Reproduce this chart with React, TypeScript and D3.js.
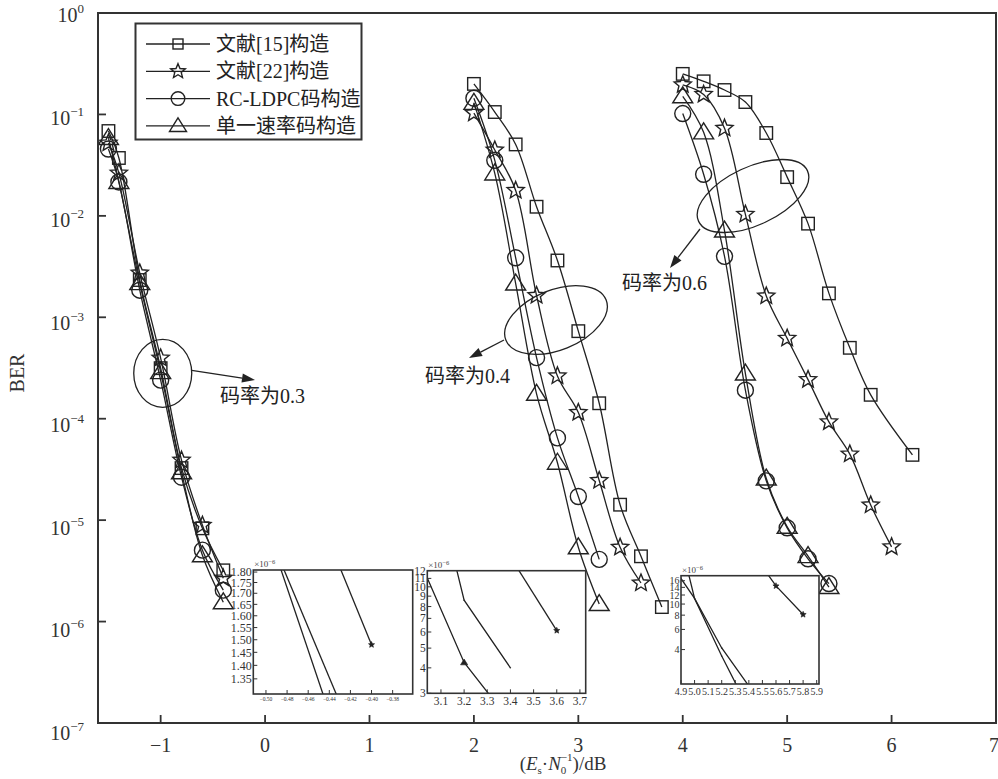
import React from 'react';
import * as d3 from 'd3';

// ---------- axis ticks ----------
const xTickValues = [-1, 0, 1, 2, 3, 4, 5, 6, 7];
const yTickExponents = [0, -1, -2, -3, -4, -5, -6, -7];

// ---------- legend ----------
const legendLabels = ['文献[15]构造', '文献[22]构造', 'RC-LDPC码构造', '单一速率码构造'];
const legendMarkers = ['square', 'star', 'circle', 'triangle'];

// ---------- rate 0.3 ----------
const snrR03 = [-1.5, -1.4, -1.2, -1.0, -0.8, -0.6, -0.4];
const r03Ref15 = [0.0686, 0.0372, 0.00233, 3.15e-4, 3.26e-5, 8.3e-6, 3.2e-6];
const r03Ref22 = [0.0522, 0.0264, 0.00273, 3.96e-4, 3.9e-5, 8.9e-6, 2.68e-6];
const r03Rc = [0.0456, 0.0216, 0.00185, 2.4e-4, 2.65e-5, 5.06e-6, 2.04e-6];
const r03Single = [0.0585, 0.0216, 0.00217, 2.88e-4, 2.97e-5, 4.5e-6, 1.55e-6];

// ---------- rate 0.4 ----------
const snrR04Ref15 = [2.0, 2.2, 2.4, 2.6, 2.8, 3.0, 3.2, 3.4, 3.6, 3.8];
const r04Ref15 = [0.2, 0.1056, 0.0506, 0.0123, 0.00363, 7.3e-4, 1.42e-4, 1.42e-5, 4.4e-6, 1.39e-6];
const snrR04Ref22 = [2.0, 2.2, 2.4, 2.6, 2.8, 3.0, 3.2, 3.4, 3.6];
const r04Ref22 = [0.103, 0.0446, 0.0178, 0.00164, 2.64e-4, 1.15e-4, 2.46e-5, 5.4e-6, 2.4e-6];
const snrR04Short = [2.0, 2.2, 2.4, 2.6, 2.8, 3.0, 3.2];
const r04Rc = [0.1445, 0.0353, 0.00386, 4.0e-4, 6.47e-5, 1.71e-5, 4.1e-6];
const r04Single = [0.13, 0.0262, 0.00215, 1.76e-4, 3.68e-5, 5.4e-6, 1.49e-6];

// ---------- rate 0.6 ----------
const snrR06Ref15 = [4.0, 4.2, 4.4, 4.6, 4.8, 5.0, 5.2, 5.4, 5.6, 5.8, 6.2];
const r06Ref15 = [0.251, 0.212, 0.174, 0.1325, 0.0656, 0.0241, 0.00838, 0.00172, 5.0e-4, 1.72e-4, 4.4e-5];
const snrR06Ref22 = [4.0, 4.2, 4.4, 4.6, 4.8, 5.0, 5.2, 5.4, 5.6, 5.8, 6.0];
const r06Ref22 = [0.196, 0.1575, 0.0731, 0.01035, 0.00162, 6.2e-4, 2.43e-4, 9.3e-5, 4.48e-5, 1.41e-5, 5.45e-6];
const snrR06Short = [4.0, 4.2, 4.4, 4.6, 4.8, 5.0, 5.2, 5.4];
const r06Rc = [0.102, 0.0257, 0.00399, 1.91e-4, 2.44e-5, 8.4e-6, 4.16e-6, 2.37e-6];
const r06Single = [0.151, 0.0666, 0.00716, 2.79e-4, 2.57e-5, 8.6e-6, 4.42e-6, 2.19e-6];

// ---------- insets (values in units of 1e-6) ----------
const in1XTicks = [-0.5, -0.48, -0.46, -0.44, -0.42, -0.4, -0.38];
const in1YTicks = [1.8, 1.75, 1.7, 1.65, 1.6, 1.55, 1.5, 1.45, 1.4, 1.35];
const in1LineAX = [-0.49, -0.44];
const in1LineAY = [1.877, 1.232];
const in1LineBX = [-0.49, -0.43];
const in1LineBY = [1.9, 1.266];
const in1StarX = [-0.44, -0.4];
const in1StarY = [1.954, 1.48];

const in2XTicks = [3.1, 3.2, 3.3, 3.4, 3.5, 3.6, 3.7];
const in2YTicks = [3, 4, 5, 6, 7, 8, 9, 10, 11, 12];
const in2TriX = [3.0, 3.2, 3.4];
const in2TriY = [14.1, 4.25, 2.18];
const in2CircX = [3.1, 3.2, 3.4];
const in2CircY = [25, 8.6, 4.0];
const in2StarX = [3.4, 3.6];
const in2StarY = [14, 6.1];

const in3XTicks = [4.9, 5.0, 5.1, 5.2, 5.3, 5.4, 5.5, 5.6, 5.7, 5.8, 5.9];
const in3YTicks = [4, 6, 8, 10, 12, 14, 16];
const in3TriX = [4.8, 5.0, 5.2, 5.4];
const in3TriY = [25, 11.2, 4.13, 1.92];
const in3CircX = [4.8, 5.0, 5.2, 5.4];
const in3CircY = [104, 11.2, 3.52, 1.2];
const in3StarX = [5.4, 5.6, 5.8];
const in3StarY = [31, 14.4, 8.1];

const INK = '#222';
const FRAME = '#333';
const SERIF = "'Liberation Serif', 'Times New Roman', 'Noto Sans CJK SC', serif";

const zip = (xs: number[], ys: number[]) => xs.map((v, i) => [v, ys[i]] as [number, number]);

function starPath(cx: number, cy: number, R: number, r: number) {
  const pts: string[] = [];
  for (let i = 0; i < 10; i++) {
    const ang = -Math.PI / 2 + (i * Math.PI) / 5;
    const rad = i % 2 === 0 ? R : r;
    pts.push(`${(cx + rad * Math.cos(ang)).toFixed(2)},${(cy + rad * Math.sin(ang)).toFixed(2)}`);
  }
  return 'M' + pts.join('L') + 'Z';
}

function Marker({ type, cx, cy, s = 1, filled = false }: { type: string; cx: number; cy: number; s?: number; filled?: boolean }) {
  const common = { fill: filled ? INK : 'none', stroke: INK, strokeWidth: filled ? 0.6 : 1.4 };
  if (type === 'square') {
    const a = 12.5 * s;
    return <rect x={cx - a / 2} y={cy - a / 2} width={a} height={a} {...common} />;
  }
  if (type === 'circle') return <circle cx={cx} cy={cy} r={8 * s} {...common} />;
  if (type === 'triangle') {
    const hw = 10 * s, up = 9.5 * s, dn = 6.5 * s;
    return <path d={`M${cx},${cy - up}L${cx + hw},${cy + dn}L${cx - hw},${cy + dn}Z`} {...common} />;
  }
  if (type === 'dot') return <circle cx={cx} cy={cy} r={2 * s} fill={INK} />;
  return <path d={starPath(cx, cy, 9 * s, 4 * s)} {...common} />;
}

const W = 998;
const H = 779;
const x = d3.scaleLinear().domain([-1.6, 7]).range([98, 996]);
const y = d3.scaleLog().domain([1e-7, 1]).range([723, 13]);

const mainSeries = [
  { xs: snrR03, ys: r03Ref15, m: 'square' },
  { xs: snrR03, ys: r03Ref22, m: 'star' },
  { xs: snrR03, ys: r03Rc, m: 'circle' },
  { xs: snrR03, ys: r03Single, m: 'triangle' },
  { xs: snrR04Ref15, ys: r04Ref15, m: 'square' },
  { xs: snrR04Ref22, ys: r04Ref22, m: 'star' },
  { xs: snrR04Short, ys: r04Rc, m: 'circle' },
  { xs: snrR04Short, ys: r04Single, m: 'triangle' },
  { xs: snrR06Ref15, ys: r06Ref15, m: 'square' },
  { xs: snrR06Ref22, ys: r06Ref22, m: 'star' },
  { xs: snrR06Short, ys: r06Rc, m: 'circle' },
  { xs: snrR06Short, ys: r06Single, m: 'triangle' },
];

const curve = d3
  .line<[number, number]>()
  .x((d) => x(d[0]))
  .y((d) => y(d[1]))
  .curve(d3.curveCatmullRom.alpha(0.5));

type InsetSeries = { xs: number[]; ys: number[]; marks: { i: number; type: string }[] };

function Inset(props: {
  id: string;
  box: [number, number, number, number];
  xDom: [number, number];
  yDom: [number, number];
  xTicks: number[];
  yTicks: number[];
  xFmt: (v: number) => string;
  yFmt: (v: number) => string;
  xFont: number;
  yFont: number;
  xLabelDy: number;
  series: InsetSeries[];
}) {
  const [x0, y0, x1, y1] = props.box;
  const sx = d3.scaleLinear().domain(props.xDom).range([x0, x1]);
  const sy = d3.scaleLog().domain(props.yDom).range([y1, y0]);
  const ln = d3
    .line<[number, number]>()
    .x((d) => sx(d[0]))
    .y((d) => sy(d[1]));
  return (
    <g>
      <defs>
        <clipPath id={props.id}>
          <rect x={x0} y={y0} width={x1 - x0} height={y1 - y0} />
        </clipPath>
      </defs>
      <rect x={x0} y={y0} width={x1 - x0} height={y1 - y0} fill="#fff" />
      <g clipPath={`url(#${props.id})`}>
        {props.series.map((s, k) => (
          <path key={k} d={ln(zip(s.xs, s.ys)) || ''} fill="none" stroke={INK} strokeWidth={1.3} />
        ))}
        {props.series.map((s, k) =>
          s.marks.map((mk, j) => (
            <Marker key={`${k}-${j}`} type={mk.type} cx={sx(s.xs[mk.i])} cy={sy(s.ys[mk.i])} s={0.36} filled />
          ))
        )}
      </g>
      {props.xTicks.map((t) => (
        <g key={`x${t}`}>
          <line x1={sx(t)} x2={sx(t)} y1={y1} y2={y1 - 4} stroke={FRAME} strokeWidth={1} />
          <text x={sx(t)} y={y1 + props.xLabelDy} fontSize={props.xFont} textAnchor="middle" fill="#333" fontFamily={SERIF}>
            {props.xFmt(t)}
          </text>
        </g>
      ))}
      {props.yTicks.map((t) => (
        <g key={`y${t}`}>
          <line x1={x0} x2={x0 + 4} y1={sy(t)} y2={sy(t)} stroke={FRAME} strokeWidth={1} />
          <text x={x0 - 1.5} y={sy(t) + props.yFont * 0.35} fontSize={props.yFont} textAnchor="end" fill="#333" fontFamily={SERIF}>
            {props.yFmt(t)}
          </text>
        </g>
      ))}
      <rect x={x0} y={y0} width={x1 - x0} height={y1 - y0} fill="none" stroke={FRAME} strokeWidth={1.6} />
      <text x={x0 + 1} y={y0 - 3} fontSize={9} fill="#444" fontFamily={SERIF}>
        ×10<tspan dy={-3} fontSize={6.5}>−6</tspan>
      </text>
    </g>
  );
}

function Arrow({ x1, y1, x2, y2 }: { x1: number; y1: number; x2: number; y2: number }) {
  const ang = Math.atan2(y2 - y1, x2 - x1);
  const L = 13, Wd = 4.5;
  const bx = x2 - L * Math.cos(ang), by = y2 - L * Math.sin(ang);
  const px = -Math.sin(ang) * Wd, py = Math.cos(ang) * Wd;
  return (
    <g>
      <line x1={x1} y1={y1} x2={bx} y2={by} stroke={INK} strokeWidth={1.3} />
      <path d={`M${x2},${y2}L${bx + px},${by + py}L${bx - px},${by - py}Z`} fill={INK} />
    </g>
  );
}

export default function App() {
  const fmt2 = (v: number) => (v < 0 ? '−' : '') + Math.abs(v).toFixed(2);
  const fmt1 = (v: number) => v.toFixed(1);
  const fmt0 = (v: number) => String(v);

  return (
    <svg width={W} height={H} style={{ position: 'absolute', left: 0, top: 0, background: '#fff' }} fontFamily={SERIF}>
      <rect x={0} y={0} width={W} height={H} fill="#fff" />

      {/* y ticks */}
      {yTickExponents.map((e, i) => (
        <g key={e}>
          <line x1={x.range()[0]} x2={x.range()[0] + 8} y1={y(Math.pow(10, e))} y2={y(Math.pow(10, e))} stroke={FRAME} strokeWidth={1.8} />
          <text x={84} y={y(Math.pow(10, e)) + 9 + i * 1.1} fontSize={20} textAnchor="end" fill="#333">
            10<tspan dy={-9} fontSize={13}>{e === 0 ? '0' : '−' + Math.abs(e)}</tspan>
          </text>
        </g>
      ))}
      {/* x ticks */}
      {xTickValues.map((t) => (
        <g key={t}>
          <line x1={x(t)} x2={x(t)} y1={y.range()[0]} y2={y.range()[0] - 8} stroke={FRAME} strokeWidth={1.8} />
          <text x={x(t) - (t === 7 ? 2 : 0)} y={y.range()[0] + 29} fontSize={20} textAnchor="middle" fill="#333">
            {t < 0 ? '−' + Math.abs(t) : t}
          </text>
        </g>
      ))}

      {/* curves */}
      {mainSeries.map((s, k) => (
        <path key={k} d={curve(zip(s.xs, s.ys)) || ''} fill="none" stroke={INK} strokeWidth={1.3} />
      ))}
      {mainSeries.map((s, k) =>
        s.xs.map((v, i) => <Marker key={`${k}-${i}`} type={s.m} cx={x(v)} cy={y(s.ys[i])} />)
      )}

      {/* annotations */}
      <ellipse cx={x(-0.98)} cy={y(2.8e-4)} rx={29} ry={34} fill="none" stroke={INK} strokeWidth={1.3} />
      <Arrow x1={x(-0.98) + 29} y1={y(2.8e-4) - 3} x2={255} y2={380} />
      <text x={220} y={403} fontSize={20} fill="#222">码率为0.3</text>

      <ellipse cx={556} cy={320} rx={54} ry={30} transform="rotate(-22 556 320)" fill="none" stroke={INK} strokeWidth={1.3} />
      <Arrow x1={504} y1={340} x2={469} y2={358} />
      <text x={510} y={383} fontSize={20} fill="#222" textAnchor="end">码率为0.4</text>

      <ellipse cx={753} cy={196} rx={60} ry={29} transform="rotate(-25 753 196)" fill="none" stroke={INK} strokeWidth={1.3} />
      <Arrow x1={700} y1={229} x2={670} y2={268} />
      <text x={707} y={290} fontSize={20} fill="#222" textAnchor="end">码率为0.6</text>

      {/* insets */}
      <Inset
        id="in1"
        box={[253.3, 570, 412.7, 694]}
        xDom={[-0.512, -0.361]}
        yDom={[1.296, 1.81]}
        xTicks={in1XTicks}
        yTicks={in1YTicks}
        xFmt={fmt2}
        yFmt={fmt2}
        xFont={5.5}
        yFont={12}
        xLabelDy={7}
        series={[
          { xs: in1LineAX, ys: in1LineAY, marks: [] },
          { xs: in1LineBX, ys: in1LineBY, marks: [] },
          { xs: in1StarX, ys: in1StarY, marks: [{ i: 1, type: 'star' }] },
        ]}
      />
      <Inset
        id="in2"
        box={[427.3, 570.7, 585.7, 693.3]}
        xDom={[3.041, 3.725]}
        yDom={[3, 12]}
        xTicks={in2XTicks}
        yTicks={in2YTicks}
        xFmt={fmt1}
        yFmt={fmt0}
        xFont={11.5}
        yFont={11.5}
        xLabelDy={12}
        series={[
          { xs: in2TriX, ys: in2TriY, marks: [{ i: 1, type: 'triangle' }] },
          { xs: in2CircX, ys: in2CircY, marks: [{ i: 1, type: 'dot' }, { i: 2, type: 'dot' }] },
          { xs: in2StarX, ys: in2StarY, marks: [{ i: 1, type: 'star' }] },
        ]}
      />
      <Inset
        id="in3"
        box={[681, 575.7, 819, 684]}
        xDom={[4.9, 5.917]}
        yDom={[2, 17.7]}
        xTicks={in3XTicks}
        yTicks={in3YTicks}
        xFmt={fmt1}
        yFmt={fmt0}
        xFont={10}
        yFont={10}
        xLabelDy={11}
        series={[
          { xs: in3TriX, ys: in3TriY, marks: [{ i: 1, type: 'dot' }, { i: 2, type: 'dot' }] },
          { xs: in3CircX, ys: in3CircY, marks: [{ i: 2, type: 'dot' }] },
          { xs: in3StarX, ys: in3StarY, marks: [{ i: 1, type: 'star' }, { i: 2, type: 'star' }] },
        ]}
      />

      {/* legend */}
      <rect x={135.5} y={23.5} width={226} height={116} fill="#fff" stroke={FRAME} strokeWidth={2} />
      {legendLabels.map((lab, i) => {
        const ly = 44 + i * 27.3;
        return (
          <g key={lab}>
            <line x1={146} x2={210} y1={ly} y2={ly} stroke={INK} strokeWidth={1.3} />
            <Marker type={legendMarkers[i]} cx={178} cy={ly} s={legendMarkers[i] === 'square' ? 0.8 : 0.85} />
            <text x={216} y={ly + 7} fontSize={20} fill="#222">{lab}</text>
          </g>
        );
      })}

      {/* frame */}
      <rect x={x.range()[0]} y={y.range()[1]} width={x.range()[1] - x.range()[0]} height={y.range()[0] - y.range()[1]} fill="none" stroke={FRAME} strokeWidth={2} />

      {/* axis titles */}
      <text transform={`translate(24,${(y.range()[0] + y.range()[1]) / 2 + 5}) rotate(-90)`} fontSize={20} textAnchor="middle" fill="#333">
        BER
      </text>
      <text x={563} y={770} fontSize={19} textAnchor="middle" fill="#333">
        (<tspan fontStyle="italic">E</tspan>
        <tspan fontSize={11} dy={3.5}>s</tspan>
        <tspan dy={-3.5}>·</tspan>
        <tspan fontStyle="italic">N</tspan>
        <tspan fontSize={11} dy={4}>0</tspan>
        <tspan fontSize={11} dx={-5.5} dy={-13}>−1</tspan>
        <tspan dy={9}>)/dB</tspan>
      </text>
    </svg>
  );
}
